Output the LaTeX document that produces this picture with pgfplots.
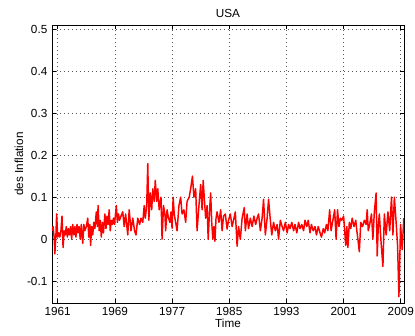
\documentclass[border=0pt]{standalone}
\usepackage{pgfplots}
\pgfplotsset{compat=1.18}
\usepackage{fontspec}
\setmainfont{Liberation Sans}
\begin{document}
\begin{tikzpicture}
\useasboundingbox (-39pt,-24.75pt) rectangle (272.25pt,227.25pt);
\begin{axis}[
  at={(0,0)}, anchor=south west,
  scale only axis, width=264pt, height=208.5pt,
  xmin=1960.2, xmax=2009.45, ymin=-0.152, ymax=0.51,
  xtick={1961,1969,1977,1985,1993,2001,2009},
  ytick={-0.1,0,0.1,0.2,0.3,0.4,0.5},
  xticklabel style={/pgf/number format/.cd, 1000 sep={}},
  yticklabel style={/pgf/number format/.cd, fixed, precision=1},
  /pgf/number format/assume math mode=true,
  tick align=inside, major tick length=3pt,
  tick style={black, line width=0.5pt},
  axis line style={black, line width=0.6pt},
  grid=major, grid style={black!65, line width=0.5pt, dash pattern=on 0.6pt off 2.4pt},
  font=\fontsize{8.8}{10}\selectfont,
  tick label style={font=\fontsize{8.8}{10}\selectfont},
  title={USA}, title style={font=\fontsize{8.8}{10}\selectfont, yshift=-4pt},
  xlabel={Time}, ylabel={des Inflation},
  xlabel style={yshift=5pt}, ylabel style={yshift=-4pt},
  every axis plot/.append style={line join=round},
]
\addplot[red, line width=1.1pt, no marks] coordinates {
(1960.20,0.020) (1960.35,0.030) (1960.50,0.005) (1960.60,-0.035) (1960.75,0.010) (1960.85,0.060)
(1961.00,0.005) (1961.15,0.015) (1961.30,0.005) (1961.45,0.020) (1961.60,0.055) (1961.75,-0.020)
(1961.90,0.020) (1962.05,0.010) (1962.20,0.030) (1962.35,0.005) (1962.50,0.025) (1962.65,0.010)
(1962.80,0.030) (1962.95,0.000) (1963.10,0.035) (1963.25,0.010) (1963.40,0.030) (1963.55,0.005)
(1963.70,0.035) (1963.85,0.015) (1964.00,0.030) (1964.15,0.000) (1964.30,0.035) (1964.50,-0.010)
(1964.65,0.035) (1964.80,0.020) (1965.00,0.030) (1965.20,0.050) (1965.35,0.005) (1965.50,0.035)
(1965.60,-0.015) (1965.75,0.030) (1965.90,0.010) (1966.05,0.040) (1966.20,0.025) (1966.40,0.065)
(1966.55,0.030) (1966.65,0.080) (1966.80,0.020) (1966.95,0.045) (1967.10,0.005) (1967.25,0.040)
(1967.40,0.015) (1967.60,0.060) (1967.75,0.025) (1967.90,0.055) (1968.05,0.035) (1968.20,0.070)
(1968.35,0.020) (1968.50,0.045) (1968.65,0.035) (1968.80,0.050) (1968.95,0.035) (1969.20,0.080)
(1969.35,0.040) (1969.50,0.060) (1969.65,0.045) (1969.85,0.055) (1970.10,0.065) (1970.30,0.030)
(1970.50,0.060) (1970.65,0.035) (1970.80,0.010) (1971.00,0.070) (1971.25,0.020) (1971.50,0.050)
(1971.75,0.020) (1971.95,0.010) (1972.20,0.050) (1972.45,0.035) (1972.65,0.050) (1972.90,0.040)
(1973.10,0.080) (1973.25,0.050) (1973.45,0.080) (1973.60,0.180) (1973.75,0.045) (1973.95,0.110)
(1974.15,0.070) (1974.30,0.120) (1974.50,0.090) (1974.65,0.140) (1974.85,0.090) (1975.00,0.120)
(1975.20,0.070) (1975.45,0.100) (1975.60,0.000) (1975.80,0.080) (1976.00,0.060) (1976.10,0.020)
(1976.30,0.070) (1976.50,0.050) (1976.70,0.040) (1976.85,0.065) (1977.00,0.026) (1977.15,0.100)
(1977.30,0.060) (1977.50,0.040) (1977.70,0.020) (1977.96,0.080) (1978.20,0.100) (1978.40,0.060)
(1978.66,0.070) (1978.90,0.040) (1979.10,0.090) (1979.40,0.100) (1979.60,0.120) (1979.85,0.150)
(1980.06,0.100) (1980.30,0.120) (1980.50,0.020) (1980.76,0.080) (1981.00,0.130) (1981.20,0.070)
(1981.35,0.140) (1981.50,0.100) (1981.70,0.050) (1981.90,0.080) (1982.05,0.000) (1982.25,0.070)
(1982.40,0.110) (1982.55,0.040) (1982.70,0.000) (1982.86,0.030) (1983.00,-0.005) (1983.15,0.050)
(1983.30,0.065) (1983.56,0.040) (1983.80,0.070) (1984.00,0.020) (1984.20,0.055) (1984.45,0.060)
(1984.70,0.024) (1984.90,0.045) (1985.15,0.060) (1985.40,0.030) (1985.60,0.045) (1985.85,0.065)
(1986.10,-0.017) (1986.30,0.030) (1986.55,0.000) (1986.80,0.050) (1987.10,0.075) (1987.25,0.020)
(1987.50,0.060) (1987.70,0.025) (1987.95,0.050) (1988.20,0.030) (1988.45,0.055) (1988.70,0.035)
(1988.90,0.050) (1989.10,0.060) (1989.35,0.020) (1989.60,0.050) (1989.80,0.095) (1990.05,0.010)
(1990.30,0.050) (1990.50,0.095) (1990.75,0.045) (1990.95,0.010) (1991.20,0.040) (1991.45,0.020)
(1991.70,0.035) (1991.90,0.000) (1992.15,0.045) (1992.40,0.030) (1992.60,0.020) (1992.85,0.040)
(1993.10,0.015) (1993.30,0.035) (1993.50,0.025) (1993.75,0.040) (1994.00,0.020) (1994.20,0.035)
(1994.45,0.015) (1994.70,0.040) (1994.90,0.025) (1995.15,0.035) (1995.40,0.020) (1995.60,0.045)
(1995.85,0.030) (1996.05,0.045) (1996.30,0.015) (1996.50,0.035) (1996.75,0.020) (1997.00,0.030)
(1997.20,0.010) (1997.45,0.030) (1997.70,0.015) (1997.90,0.005) (1998.15,0.025) (1998.35,0.015)
(1998.60,0.035) (1998.80,0.020) (1999.05,0.070) (1999.25,0.020) (1999.50,0.045) (1999.75,0.070)
(1999.95,0.000) (2000.15,0.070) (2000.35,0.030) (2000.55,0.050) (2000.75,0.045) (2001.00,0.055)
(2001.15,0.020) (2001.30,-0.015) (2001.45,0.030) (2001.60,-0.020) (2001.80,0.040) (2002.00,0.025)
(2002.20,0.050) (2002.45,0.030) (2002.70,0.045) (2002.85,0.020) (2003.00,0.000) (2003.20,-0.030)
(2003.40,0.040) (2003.65,0.030) (2003.90,0.045) (2004.15,0.035) (2004.30,0.070) (2004.45,0.020)
(2004.65,0.035) (2004.90,0.060) (2005.10,0.000) (2005.30,0.065) (2005.55,0.110) (2005.70,-0.040)
(2005.85,0.030) (2006.00,0.060) (2006.25,-0.010) (2006.50,-0.065) (2006.70,0.060) (2006.95,0.010)
(2007.20,0.065) (2007.45,0.020) (2007.70,0.100) (2007.90,0.010) (2008.10,0.100) (2008.35,0.040)
(2008.55,-0.015) (2008.74,-0.137) (2008.97,0.035) (2009.20,-0.025) (2009.42,0.050)
};
\end{axis}
\end{tikzpicture}
\end{document}
